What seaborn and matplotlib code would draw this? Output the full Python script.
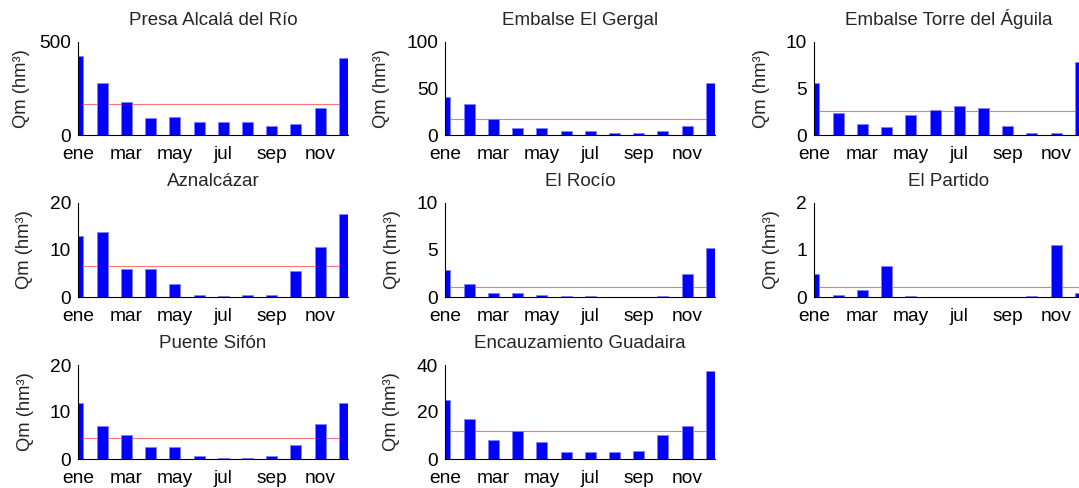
import numpy as np
import pandas as pd
import matplotlib
matplotlib.use("Agg")
import matplotlib.pyplot as plt
import seaborn as sns

# ---------------- data ----------------
months = ["ene", "feb", "mar", "abr", "may", "jun", "jul", "ago", "sep", "oct", "nov", "dic"]
tick_labels = ["ene", "mar", "may", "jul", "sep", "nov"]

titles = ["Presa Alcalá del Río", "Embalse El Gergal", "Embalse Torre del Águila",
          "Aznalcázar", "El Rocío", "El Partido",
          "Puente Sifón", "Encauzamiento Guadaira"]

alcala = [425, 280, 175, 89, 98, 70, 70, 70, 50, 59, 146, 412]
gergal = [41, 33, 16.8, 7, 7, 4.6, 4.6, 2.5, 2.5, 4.6, 10, 56]
torre_aguila = [5.57, 2.38, 1.17, 0.82, 2.16, 2.73, 3.12, 2.87, 0.99, 0.25, 0.25, 7.8]
aznalcazar = [13.0, 13.86, 5.86, 5.86, 2.79, 0.5, 0.2, 0.5, 0.5, 5.43, 10.7, 17.6]
rocio = [2.9, 1.39, 0.43, 0.43, 0.21, 0.1, 0.1, 0.02, 0.02, 0.1, 2.5, 5.18]
partido = [0.5, 0.05, 0.157, 0.66, 0.015, 0.005, 0.005, 0.005, 0.005, 0.015, 1.11, 0.086]
puente_sifon = [12.0, 7.05, 5.2, 2.5, 2.5, 0.57, 0.2, 0.2, 0.57, 2.9, 7.47, 12.0]
guadaira = [25.3, 17.0, 8.06, 11.9, 7.2, 2.83, 2.83, 2.83, 3.4, 10.3, 14.1, 37.5]

means = [168, 16.8, 2.59, 6.64, 1.04, 0.21, 4.48, 11.9]
yticks = [[0, 500], [0, 50, 100], [0, 5, 10], [0, 10, 20],
          [0, 5, 10], [0, 1, 2], [0, 10, 20], [0, 20, 40]]

series = [alcala, gergal, torre_aguila, aznalcazar, rocio, partido, puente_sifon, guadaira]

# ---------------- layout ----------------
W, H = 1079, 488
col_left = [78, 445, 814]
row_tb = [(42, 135), (203, 297), (365, 459)]
ax_w = 270
ylabel_offsets = [-48, -55, -44, -45, -44, -34, -44, -45]

sns.set_style("white")
plt.rcParams["font.family"] = ["Liberation Sans", "DejaVu Sans"]

fig = plt.figure(figsize=(W / 100, H / 100), dpi=100)

for i, (title, vals, mean, yt) in enumerate(zip(titles, series, means, yticks)):
    r, c = divmod(i, 3)
    top, bot = row_tb[r]
    ax = fig.add_axes([col_left[c] / W, (H - bot) / H, ax_w / W, (bot - top) / H])
    df = pd.DataFrame({"mes": months, "Qm": vals})
    ax.axhline(mean, color="#ff0000", lw=0.8, alpha=0.55, zorder=1)
    sns.barplot(data=df, x="mes", y="Qm", order=months, color="#0000ff",
                saturation=1, width=0.45, edgecolor="#8080ff", linewidth=0.6,
                errorbar=None, ax=ax, zorder=2)
    ax.set_xlim(0, 11.15)
    ax.set_ylim(yt[0], yt[-1])
    ax.set_xticks([0, 2, 4, 6, 8, 10])
    ax.set_xticklabels(tick_labels)
    ax.set_yticks(yt)
    ax.set_xlabel("")
    ax.set_ylabel("Qm (hm³)", fontsize=13.2)
    ax.yaxis.set_label_coords(ylabel_offsets[i] / ax_w, 0.5)
    ax.set_title(title, fontsize=13.5, pad=12)
    sns.despine(ax=ax)
    for s in ("left", "bottom"):
        ax.spines[s].set_color("black")
        ax.spines[s].set_linewidth(0.8)
    ax.tick_params(axis="both", direction="in", length=2.5, width=0.6,
                   labelsize=13.8, colors="black")
    ax.tick_params(axis="x", pad=8)
    ax.tick_params(axis="y", pad=5)

fig.savefig("out.png", dpi=100)
